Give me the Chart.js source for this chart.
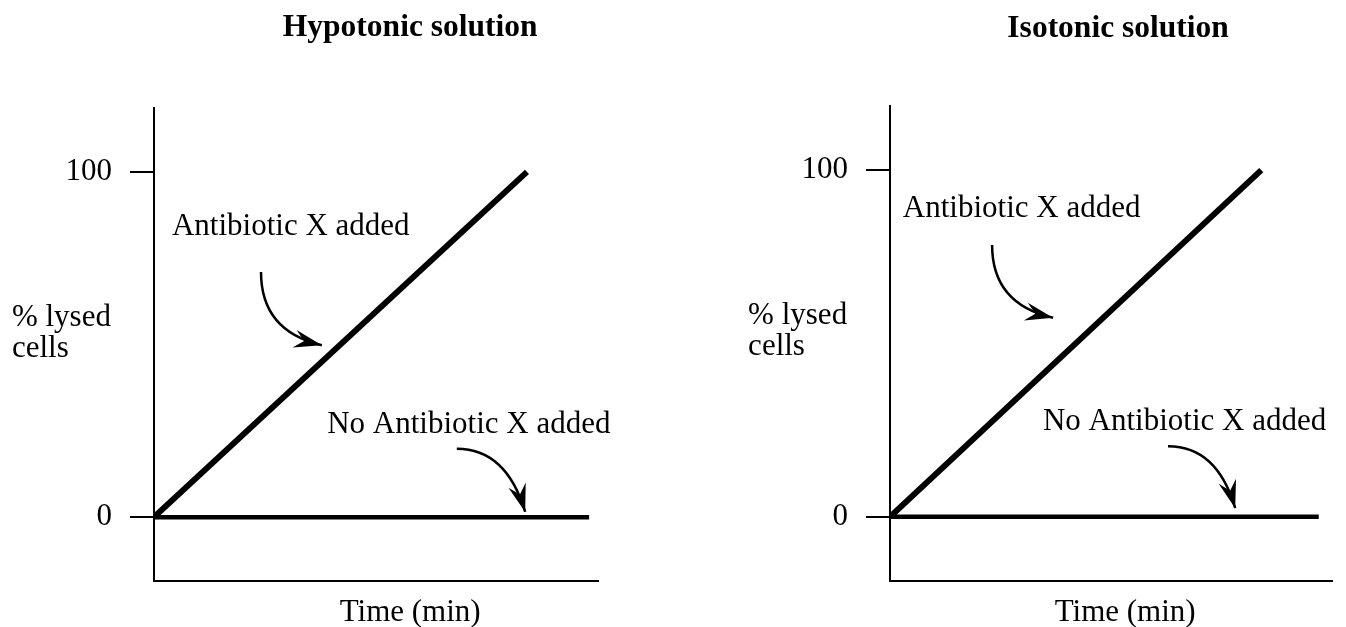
<!DOCTYPE html>
<html>
<head>
<meta charset="utf-8">
<title>Lysed cells over time</title>
<script src="https://cdn.jsdelivr.net/npm/chart.js@4.4.1/dist/chart.umd.min.js"></script>
<style>
  body { margin: 0; background: #fff; }
  #wrap { position: relative; width: 1346px; height: 627px; }
  canvas { position: absolute; top: 0; }
  #hypo { left: 0; }
  #iso { left: 673px; }
</style>
</head>
<body>
<div id="wrap">
  <canvas id="hypo" width="673" height="627"></canvas>
  <canvas id="iso" width="673" height="627"></canvas>
</div>
<script>
// panel titles and labels
const panelTitles = ["Hypotonic solution", "Isotonic solution"];
const yAxisLabel = ["% lysed", "cells"];
const xAxisLabel = "Time (min)";
const lineLabels = ["Antibiotic X added", "No Antibiotic X added"];

// y ticks
const yTicks = [0, 100];
const yTickLabels = ["0", "100"];

// hypotonic: time (arbitrary units, 0-100 along the axis) and % lysed
const hypoTimeAntibiotic = [0, 84];
const hypoLysedAntibiotic = [0, 100];
const hypoTimeNone = [0, 98];
const hypoLysedNone = [0, 0];

// isotonic
const isoTimeAntibiotic = [0, 84];
const isoLysedAntibiotic = [0, 100];
const isoTimeNone = [0, 97];
const isoLysedNone = [0, 0];

const serif = '"Liberation Serif", "Times New Roman", serif';
const textFont = "31px " + serif;
const titleFont = "bold 31.5px " + serif;

function toPoints(xs, ys) {
    return xs.map((x, i) => ({ x: x, y: ys[i] }));
}

function drawArrow(ctx, p0, c, p1) {
    ctx.lineWidth = 2.5;
    ctx.lineCap = "butt";
    ctx.beginPath();
    ctx.moveTo(p0[0], p0[1]);
    ctx.quadraticCurveTo(c[0], c[1], p1[0], p1[1]);
    ctx.stroke();

    let dx = p1[0] - c[0], dy = p1[1] - c[1];
    let len = Math.hypot(dx, dy);
    dx /= len; dy /= len;
    let nx = -dy, ny = dx;
    let L = 28, W = 9;
    ctx.beginPath();
    ctx.moveTo(p1[0], p1[1]);
    ctx.lineTo(p1[0] - L * dx + W * nx, p1[1] - L * dy + W * ny);
    ctx.lineTo(p1[0] - 0.65 * L * dx, p1[1] - 0.65 * L * dy);
    ctx.lineTo(p1[0] - L * dx - W * nx, p1[1] - L * dy - W * ny);
    ctx.closePath();
    ctx.fill();
}

// text and arrows are placed in data units so they follow the scales
function annotations(panel) {
    return {
        id: "annotate",
        afterDatasetsDraw(chart) {
            let ctx = chart.ctx;
            let sx = chart.scales.x, sy = chart.scales.y;
            let px = p => [sx.getPixelForValue(p[0]), sy.getPixelForValue(p[1])];
            ctx.save();
            ctx.fillStyle = "#000";
            ctx.strokeStyle = "#000";
            ctx.textBaseline = "alphabetic";
            panel.texts.forEach(t => {
                ctx.font = t.bold ? titleFont : textFont;
                ctx.textAlign = t.align;
                let p = px(t.at);
                ctx.fillText(t.text, p[0], p[1]);
            });
            panel.arrows.forEach(a => drawArrow(ctx, px(a[0]), px(a[1]), px(a[2])));
            ctx.restore();
        }
    };
}

const hypoPanel = {
    texts: [
        { text: panelTitles[0], at: [57.7, 139.3], align: "center", bold: true },
        { text: yAxisLabel[0], at: [-32, 55.3], align: "left" },
        { text: yAxisLabel[1], at: [-32, 46.4], align: "left" },
        { text: lineLabels[0], at: [4.05, 81.7], align: "left" },
        { text: lineLabels[1], at: [39, 24.4], align: "left" },
        { text: xAxisLabel, at: [57.7, -30.1], align: "center" }
    ],
    arrows: [
        [[24.1, 71.0], [24.1, 53.9], [37.8, 49.8]],
        [[68.2, 19.8], [79.3, 19.8], [83.6, 1.5]]
    ]
};

const isoPanel = {
    texts: [
        { text: panelTitles[1], at: [51.6, 138.4], align: "center", bold: true },
        { text: yAxisLabel[0], at: [-32.1, 55.7], align: "left" },
        { text: yAxisLabel[1], at: [-32.1, 46.7], align: "left" },
        { text: lineLabels[0], at: [2.9, 86.5], align: "left" },
        { text: lineLabels[1], at: [34.6, 25.1], align: "left" },
        { text: xAxisLabel, at: [53.2, -29.9], align: "center" }
    ],
    arrows: [
        [[23.1, 78.4], [23.1, 61.4], [36.9, 57.4]],
        [[62.9, 20.4], [74.0, 20.4], [78.1, 2.5]]
    ]
};

function makeChart(id, antibiotic, none, panel, yWidth, pad) {
    return new Chart(document.getElementById(id), {
        type: "line",
        data: {
            datasets: [
                { data: none, borderColor: "#000", borderWidth: 4.5, pointRadius: 0, fill: false },
                { data: antibiotic, borderColor: "#000", borderWidth: 6, pointRadius: 0, fill: false }
            ]
        },
        options: {
            responsive: false,
            animation: false,
            layout: { padding: pad },
            plugins: { legend: { display: false }, tooltip: { enabled: false }, title: { display: false } },
            scales: {
                x: {
                    type: "linear",
                    min: 0,
                    max: 100,
                    grid: { display: false },
                    ticks: { display: false },
                    border: { display: true, color: "#000", width: 2 },
                    afterFit: s => { s.height = 46; }
                },
                y: {
                    type: "linear",
                    min: -18.5,
                    max: 118.5,
                    afterBuildTicks: s => { s.ticks = yTicks.map(v => ({ value: v })); },
                    ticks: {
                        autoSkip: false,
                        color: "#000",
                        padding: 18,
                        font: { family: serif, size: 31 },
                        callback: v => yTickLabels[yTicks.indexOf(v)]
                    },
                    grid: { drawOnChartArea: false, drawTicks: true, tickLength: 24, lineWidth: 2, color: "#000" },
                    border: { display: true, color: "#000", width: 2 },
                    afterFit: s => { s.width = yWidth; }
                }
            }
        },
        plugins: [annotations(panel)]
    });
}

makeChart("hypo",
    toPoints(hypoTimeAntibiotic, hypoLysedAntibiotic),
    toPoints(hypoTimeNone, hypoLysedNone),
    hypoPanel, 154, { left: 0, right: 75, top: 108, bottom: 0 });

makeChart("iso",
    toPoints(isoTimeAntibiotic, isoLysedAntibiotic),
    toPoints(isoTimeNone, isoLysedNone),
    isoPanel, 217, { left: 0, right: 14, top: 106, bottom: 0 });
</script>
</body>
</html>
